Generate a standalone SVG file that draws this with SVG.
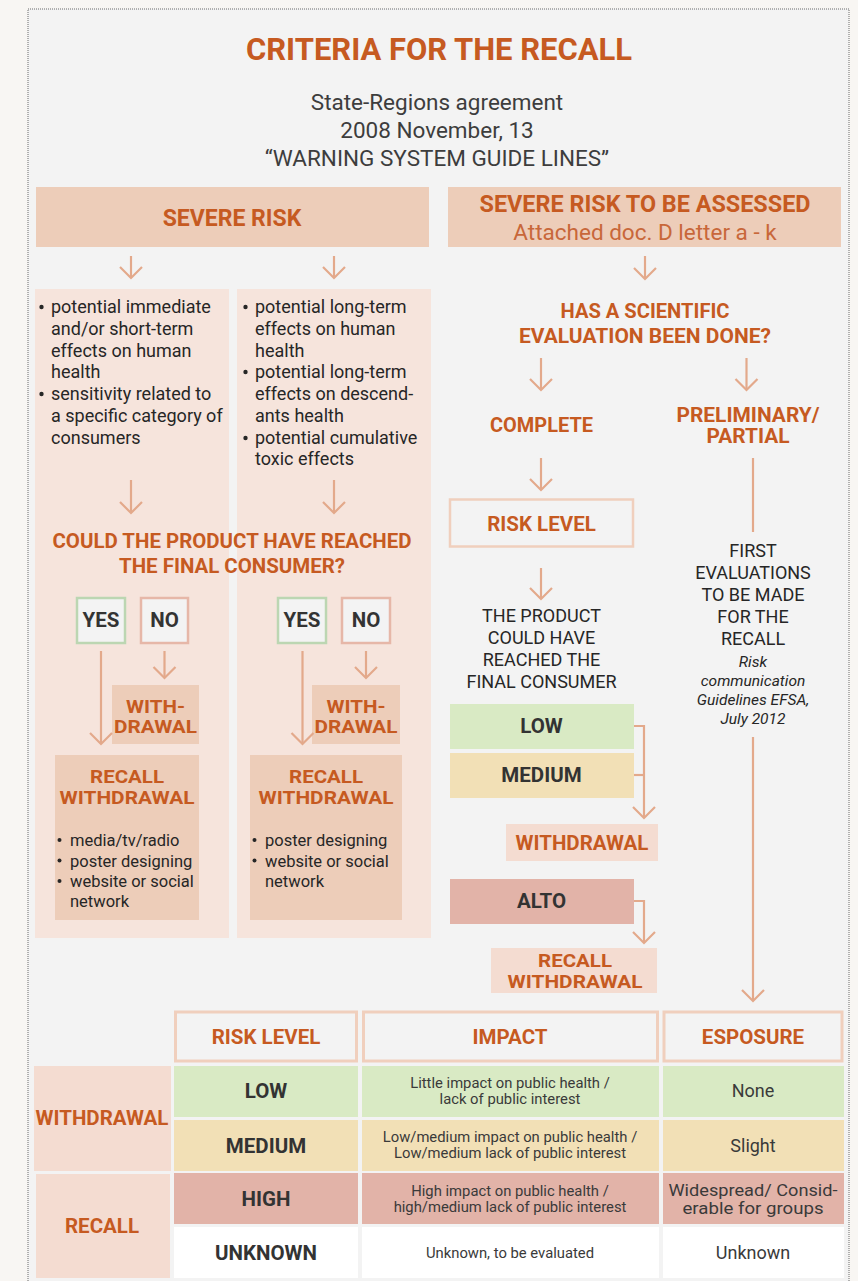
<svg xmlns="http://www.w3.org/2000/svg" width="858" height="1281" viewBox="0 0 858 1281">
  <style>
    text { font-family: Roboto, "Liberation Sans", sans-serif; }
    .ttl { font-size: 31px; font-weight: 700; fill: #c65a21; text-anchor: middle; }
    .sub { font-size: 22.5px; fill: #3d3d3d; text-anchor: middle; }
    .h2 { font-size: 23px; font-weight: 700; fill: #c65a21; text-anchor: middle; }
    .h2l { font-size: 22.5px; fill: #c8673a; text-anchor: middle; }
    .q { font-size: 19.5px; font-weight: 700; fill: #c65a21; text-anchor: middle; }
    .lb { font-size: 20.5px; font-weight: 700; fill: #c65a21; text-anchor: middle; }
    .lbs { font-size: 18.5px; font-weight: 700; fill: #c65a21; text-anchor: middle; }
    .dk { font-size: 20.5px; font-weight: 700; fill: #333333; text-anchor: middle; }
    .body { font-size: 18px; fill: #262626; }
    .bodyc { font-size: 18px; fill: #262626; text-anchor: middle; }
    .sm { font-size: 16.5px; fill: #262626; }
    .it { font-size: 15.5px; font-style: italic; fill: #262626; text-anchor: middle; }
    .tb { font-size: 14.8px; fill: #3a3a3a; text-anchor: middle; }
    .tx { font-size: 18px; fill: #3a3a3a; text-anchor: middle; }
    .txs { font-size: 16.5px; fill: #3a3a3a; text-anchor: middle; }
    .conn { fill: none; stroke: #e3a98b; stroke-width: 2.2; stroke-linejoin: miter; }
    .panel { fill: #f6e4dc; }
    .salmon { fill: #edcdb9; }
    .light { fill: #f4dcd1; }
    .frame { fill: #f3f3f3; stroke: #f0cfbd; stroke-width: 3; }
  </style>
  <defs>
    <marker id="chev" viewBox="-13 -13 15 26" markerWidth="15" markerHeight="26" refX="0" refY="0" orient="auto" markerUnits="userSpaceOnUse">
      <path d="M-11,-11 L0,0 L-11,11" fill="none" stroke="#e3a98b" stroke-width="2.2"/>
    </marker>
  </defs>

  <!-- page -->
  <rect x="0" y="0" width="858" height="1281" fill="#f8f6f3"/>
  <rect x="28" y="9" width="821" height="1290" fill="#f3f3f3" stroke="#6a6a6a" stroke-width="1" stroke-dasharray="1 1"/>

  <!-- heading -->
  <g id="title">
    <text class="ttl" x="439" y="60" textLength="386" lengthAdjust="spacingAndGlyphs">CRITERIA FOR THE RECALL</text>
    <text class="sub" x="437" y="110">State-Regions agreement</text>
    <text class="sub" x="437" y="138">2008 November, 13</text>
    <text class="sub" x="437" y="166">“WARNING SYSTEM GUIDE LINES”</text>
  </g>

  <!-- left branch -->
  <g id="severe-risk">
    <rect class="salmon" x="36" y="187" width="393" height="60"/>
    <text class="h2" x="232" y="226">SEVERE RISK</text>
  </g>

  <g id="panel-left">
    <rect class="panel" x="35" y="289" width="194" height="649"/>
    <circle cx="41.5" cy="307" r="2.2" fill="#262626"/>
    <text class="body" x="51" y="313">potential immediate</text>
    <text class="body" x="51" y="335">and/or short-term</text>
    <text class="body" x="51" y="357">effects on human</text>
    <text class="body" x="51" y="378">health</text>
    <circle cx="41.5" cy="394" r="2.2" fill="#262626"/>
    <text class="body" x="51" y="400">sensitivity related to</text>
    <text class="body" x="51" y="422">a specific category of</text>
    <text class="body" x="51" y="444">consumers</text>
  </g>

  <g id="panel-right">
    <rect class="panel" x="237" y="289" width="194" height="649"/>
    <circle cx="245.5" cy="307" r="2.2" fill="#262626"/>
    <text class="body" x="255" y="313">potential long-term</text>
    <text class="body" x="255" y="335">effects on human</text>
    <text class="body" x="255" y="357">health</text>
    <circle cx="245.5" cy="372" r="2.2" fill="#262626"/>
    <text class="body" x="255" y="378">potential long-term</text>
    <text class="body" x="255" y="400">effects on descend-</text>
    <text class="body" x="255" y="422">ants health</text>
    <circle cx="245.5" cy="438" r="2.2" fill="#262626"/>
    <text class="body" x="255" y="444">potential cumulative</text>
    <text class="body" x="255" y="465">toxic effects</text>
  </g>

  <g id="question-consumer">
    <text class="q" x="232" y="548" textLength="359" lengthAdjust="spacingAndGlyphs">COULD THE PRODUCT HAVE REACHED</text>
    <text class="q" x="232" y="573" textLength="226" lengthAdjust="spacingAndGlyphs">THE FINAL CONSUMER?</text>
  </g>

  <g id="yes-left">
    <rect x="77" y="598" width="48" height="45" fill="#f3f3f3" stroke="#bcd6b2" stroke-width="2.5"/>
    <text class="dk" x="101" y="627">YES</text>
  </g>
  <g id="no-left">
    <rect x="141" y="598" width="47" height="45" fill="#f3f3f3" stroke="#e6b7a8" stroke-width="2.5"/>
    <text class="dk" x="164.5" y="627">NO</text>
  </g>
  <g id="yes-right">
    <rect x="278" y="598" width="48" height="45" fill="#f3f3f3" stroke="#bcd6b2" stroke-width="2.5"/>
    <text class="dk" x="302" y="627">YES</text>
  </g>
  <g id="no-right">
    <rect x="342" y="598" width="48" height="45" fill="#f3f3f3" stroke="#e6b7a8" stroke-width="2.5"/>
    <text class="dk" x="366" y="627">NO</text>
  </g>

  <g id="withdrawal-left">
    <rect class="salmon" x="112" y="685" width="87" height="59"/>
    <text class="lbs" x="155.5" y="713" textLength="59" lengthAdjust="spacingAndGlyphs">WITH-</text>
    <text class="lbs" x="155.5" y="733" textLength="83" lengthAdjust="spacingAndGlyphs">DRAWAL</text>
  </g>
  <g id="withdrawal-right">
    <rect class="salmon" x="312" y="685" width="88" height="59"/>
    <text class="lbs" x="356" y="713" textLength="59" lengthAdjust="spacingAndGlyphs">WITH-</text>
    <text class="lbs" x="356" y="733" textLength="83" lengthAdjust="spacingAndGlyphs">DRAWAL</text>
  </g>

  <g id="recall-left">
    <rect class="salmon" x="55" y="755" width="144" height="165"/>
    <text class="lbs" x="127" y="783" textLength="74" lengthAdjust="spacingAndGlyphs">RECALL</text>
    <text class="lbs" x="127" y="804" textLength="135" lengthAdjust="spacingAndGlyphs">WITHDRAWAL</text>
    <circle cx="59.5" cy="840" r="2" fill="#262626"/>
    <text class="sm" x="70" y="846">media/tv/radio</text>
    <circle cx="59.5" cy="860.5" r="2" fill="#262626"/>
    <text class="sm" x="70" y="866.5">poster designing</text>
    <circle cx="59.5" cy="881" r="2" fill="#262626"/>
    <text class="sm" x="70" y="887">website or social</text>
    <text class="sm" x="70" y="907">network</text>
  </g>
  <g id="recall-right">
    <rect class="salmon" x="250" y="755" width="152" height="165"/>
    <text class="lbs" x="326" y="783" textLength="74" lengthAdjust="spacingAndGlyphs">RECALL</text>
    <text class="lbs" x="326" y="804" textLength="135" lengthAdjust="spacingAndGlyphs">WITHDRAWAL</text>
    <circle cx="254.5" cy="840" r="2" fill="#262626"/>
    <text class="sm" x="265" y="846">poster designing</text>
    <circle cx="254.5" cy="860.5" r="2" fill="#262626"/>
    <text class="sm" x="265" y="866.5">website or social</text>
    <text class="sm" x="265" y="887">network</text>
  </g>

  <!-- right branch -->
  <g id="severe-risk-assessed">
    <rect class="salmon" x="448" y="187" width="393" height="60"/>
    <text class="h2" x="645" y="212" textLength="331" lengthAdjust="spacingAndGlyphs">SEVERE RISK TO BE ASSESSED</text>
    <text class="h2l" x="645" y="240">Attached doc. D letter a - k</text>
  </g>

  <g id="question-evaluation">
    <text class="q" x="645" y="318" textLength="169" lengthAdjust="spacingAndGlyphs">HAS A SCIENTIFIC</text>
    <text class="q" x="645" y="343" textLength="252" lengthAdjust="spacingAndGlyphs">EVALUATION BEEN DONE?</text>
  </g>

  <g id="complete">
    <text class="q" x="541.5" y="432" textLength="103" lengthAdjust="spacingAndGlyphs">COMPLETE</text>
  </g>
  <g id="partial">
    <text class="q" x="748" y="422" textLength="143" lengthAdjust="spacingAndGlyphs">PRELIMINARY/</text>
    <text class="q" x="748" y="443" textLength="83" lengthAdjust="spacingAndGlyphs">PARTIAL</text>
  </g>

  <g id="risk-level">
    <rect x="450" y="499.5" width="183" height="47" fill="#f3f3f3" stroke="#f0cfbd" stroke-width="2.5"/>
    <text class="lb" x="541.5" y="531">RISK LEVEL</text>
  </g>

  <g id="reached-consumer">
    <text class="bodyc" x="541.5" y="622">THE PRODUCT</text>
    <text class="bodyc" x="541.5" y="644">COULD HAVE</text>
    <text class="bodyc" x="541.5" y="666">REACHED THE</text>
    <text class="bodyc" x="541.5" y="688">FINAL CONSUMER</text>
  </g>

  <g id="first-evaluations">
    <text class="bodyc" x="753" y="557">FIRST</text>
    <text class="bodyc" x="753" y="579">EVALUATIONS</text>
    <text class="bodyc" x="753" y="601">TO BE MADE</text>
    <text class="bodyc" x="753" y="623">FOR THE</text>
    <text class="bodyc" x="753" y="645">RECALL</text>
    <text class="it" x="753" y="667">Risk</text>
    <text class="it" x="753" y="686">communication</text>
    <text class="it" x="753" y="705">Guidelines EFSA,</text>
    <text class="it" x="753" y="724">July 2012</text>
  </g>

  <g id="level-low">
    <rect x="450" y="704" width="184" height="45" fill="#d9eac4"/>
    <text class="dk" x="541.5" y="733">LOW</text>
  </g>
  <g id="level-medium">
    <rect x="450" y="753" width="184" height="45" fill="#f2e0b6"/>
    <text class="dk" x="541.5" y="782">MEDIUM</text>
  </g>
  <g id="withdrawal-assessed">
    <rect class="light" x="506" y="824" width="152" height="37"/>
    <text class="lb" x="582" y="850">WITHDRAWAL</text>
  </g>
  <g id="level-alto">
    <rect x="450" y="879" width="184" height="45" fill="#e2b3a8"/>
    <text class="dk" x="541.5" y="908">ALTO</text>
  </g>
  <g id="recall-assessed">
    <rect class="light" x="491" y="948" width="166" height="45"/>
    <text class="lbs" x="575" y="967" textLength="74" lengthAdjust="spacingAndGlyphs">RECALL</text>
    <text class="lbs" x="575" y="988" textLength="135" lengthAdjust="spacingAndGlyphs">WITHDRAWAL</text>
  </g>

  <!-- connectors -->
  <g id="connectors">
    <path class="conn" d="M131,256 V278" marker-end="url(#chev)"/>
    <path class="conn" d="M334,256 V278" marker-end="url(#chev)"/>
    <path class="conn" d="M645,256 V279" marker-end="url(#chev)"/>
    <path class="conn" d="M131,480 V513" marker-end="url(#chev)"/>
    <path class="conn" d="M334,480 V513" marker-end="url(#chev)"/>
    <path class="conn" d="M101,651 V744" marker-end="url(#chev)"/>
    <path class="conn" d="M164.5,651 V678" marker-end="url(#chev)"/>
    <path class="conn" d="M302.5,651 V744" marker-end="url(#chev)"/>
    <path class="conn" d="M366,651 V678" marker-end="url(#chev)"/>
    <path class="conn" d="M541,358 V390" marker-end="url(#chev)"/>
    <path class="conn" d="M746.5,358 V390" marker-end="url(#chev)"/>
    <path class="conn" d="M541,458 V490" marker-end="url(#chev)"/>
    <path class="conn" d="M753,458 V532"/>
    <path class="conn" d="M541,568 V599" marker-end="url(#chev)"/>
    <path class="conn" d="M753,737 V1001" marker-end="url(#chev)"/>
    <path class="conn" d="M634,726 H644 V818" marker-end="url(#chev)"/>
    <path class="conn" d="M634,775 H644"/>
    <path class="conn" d="M634,901 H644 V943" marker-end="url(#chev)"/>
  </g>

  <!-- summary table -->
  <g id="table-header">
    <rect class="frame" x="175.5" y="1012" width="181" height="49"/>
    <text class="lb" x="266" y="1044">RISK LEVEL</text>
    <rect class="frame" x="363.5" y="1012" width="294" height="49"/>
    <text class="lb" x="510" y="1044">IMPACT</text>
    <rect class="frame" x="664" y="1012" width="178" height="49"/>
    <text class="lb" x="753" y="1044">ESPOSURE</text>
  </g>

  <g id="group-withdrawal">
    <rect class="light" x="34" y="1066" width="137" height="105"/>
    <text class="lb" x="102" y="1125">WITHDRAWAL</text>
  </g>
  <g id="group-recall">
    <rect class="light" x="36" y="1174" width="134" height="104"/>
    <text class="lb" x="102" y="1233">RECALL</text>
  </g>

  <g id="row-low">
    <rect x="174" y="1066" width="184" height="51" fill="#d9eac4"/>
    <rect x="362" y="1066" width="297" height="51" fill="#d9eac4"/>
    <rect x="663" y="1066" width="181" height="51" fill="#d9eac4"/>
    <text class="dk" x="266" y="1098">LOW</text>
    <text class="tb" x="510" y="1088">Little impact on public health /</text>
    <text class="tb" x="510" y="1104">lack of public interest</text>
    <text class="tx" x="753" y="1097">None</text>
  </g>
  <g id="row-medium">
    <rect x="174" y="1120" width="184" height="51" fill="#f2e0b6"/>
    <rect x="362" y="1120" width="297" height="51" fill="#f2e0b6"/>
    <rect x="663" y="1120" width="181" height="51" fill="#f2e0b6"/>
    <text class="dk" x="266" y="1153">MEDIUM</text>
    <text class="tb" x="510" y="1142">Low/medium impact on public health /</text>
    <text class="tb" x="510" y="1158">Low/medium lack of public interest</text>
    <text class="tx" x="753" y="1152">Slight</text>
  </g>
  <g id="row-high">
    <rect x="174" y="1173" width="184" height="51" fill="#e2b3a8"/>
    <rect x="362" y="1173" width="297" height="51" fill="#e2b3a8"/>
    <rect x="663" y="1173" width="181" height="51" fill="#e2b3a8"/>
    <text class="dk" x="266" y="1206">HIGH</text>
    <text class="tb" x="510" y="1196">High impact on public health /</text>
    <text class="tb" x="510" y="1212">high/medium lack of public interest</text>
    <text class="txs" x="753" y="1196" textLength="169" lengthAdjust="spacingAndGlyphs">Widespread/ Consid-</text>
    <text class="txs" x="753" y="1214" textLength="141" lengthAdjust="spacingAndGlyphs">erable for groups</text>
  </g>
  <g id="row-unknown">
    <rect x="174" y="1227" width="184" height="51" fill="#ffffff"/>
    <rect x="362" y="1227" width="297" height="51" fill="#ffffff"/>
    <rect x="663" y="1227" width="181" height="51" fill="#ffffff"/>
    <text class="dk" x="266" y="1260">UNKNOWN</text>
    <text class="tb" x="510" y="1258">Unknown, to be evaluated</text>
    <text class="tx" x="753" y="1259">Unknown</text>
  </g>
</svg>
